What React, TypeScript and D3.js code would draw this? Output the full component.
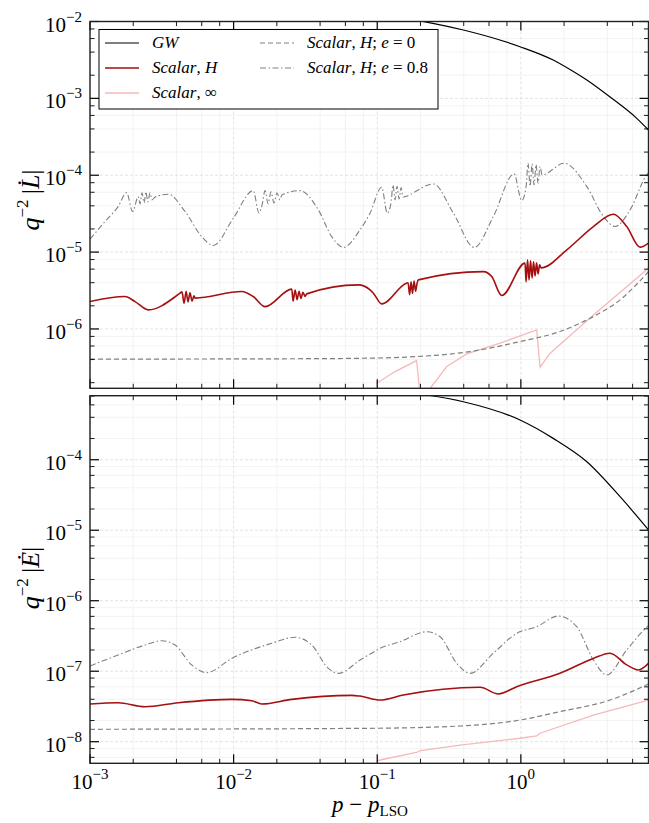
import React from 'react';
import * as d3 from 'd3';

// x: p - p_LSO ; y: flux values
const L_gw = [[0.199, 1.02e-2], [0.398, 7.75e-3], [0.987, 4.7e-3], [1.68, 3.15e-3], [2.2, 2.37e-3], [2.88, 1.73e-3], [4.18, 1.04e-3], [6.41, 5.5e-4], [7.74, 3.88e-4]];
const L_H = [[0.001, 2.27e-6], [0.00175, 2.64e-6], [0.00206, 2.27e-6], [0.00255, 1.77e-6], [0.00424, 2.92e-6], [0.00437, 3.04e-6], [0.00452, 2.16e-6], [0.00467, 3.1e-6], [0.00481, 2.25e-6], [0.00497, 2.95e-6], [0.00513, 2.3e-6], [0.0053, 2.7e-6], [0.00539, 2.52e-6], [0.01138, 3.07e-6], [0.0137, 2.64e-6], [0.01656, 1.95e-6], [0.0254, 3.3e-6], [0.02594, 2.3e-6], [0.0268, 3.2e-6], [0.02767, 2.4e-6], [0.02855, 3.1e-6], [0.02944, 2.5e-6], [0.0304, 3.0e-6], [0.0314, 2.65e-6], [0.0323, 2.86e-6], [0.0738, 3.74e-6], [0.0891, 3.23e-6], [0.094, 2.92e-6], [0.1074, 2.12e-6], [0.16, 3.94e-6], [0.164, 3.98e-6], [0.168, 2.8e-6], [0.172, 4.1e-6], [0.176, 2.9e-6], [0.1805, 4.2e-6], [0.185, 3.1e-6], [0.189, 3.86e-6], [0.193, 4.35e-6], [0.548, 5.57e-6], [0.627, 4.8e-6], [0.736, 2.72e-6], [1.069, 7.18e-6], [1.087, 4.1e-6], [1.113, 7.92e-6], [1.14, 4.35e-6], [1.168, 7.69e-6], [1.197, 4.62e-6], [1.226, 7.47e-6], [1.256, 4.91e-6], [1.286, 7.24e-6], [1.318, 5.21e-6], [1.35, 6.82e-6], [1.382, 6.24e-6], [2.09, 1.07e-5], [3.2, 2.15e-5], [4.41, 3.11e-5], [5.46, 2.15e-5], [6.76, 1.16e-5], [7.74, 1.31e-5]];
const L_inf = [[0.0991, 1.97e-7], [0.133, 2.79e-7], [0.188, 3.88e-7], [0.2, 1.2e-7], [0.21, 1.3e-7], [0.305, 3.24e-7], [0.42, 4.74e-7], [0.716, 6.53e-7], [1.29, 9.72e-7], [1.36, 3.18e-7], [1.6, 4.84e-7], [3.2, 1.52e-6], [7.74, 6.18e-6]];
const L_e0 = [[0.001, 4.05e-7], [0.03, 4.1e-7], [0.0891, 4.17e-7], [0.188, 4.37e-7], [0.443, 5.08e-7], [0.987, 6.86e-7], [1.87, 9.25e-7], [3.2, 1.45e-6], [4.91, 2.39e-6], [7.74, 5.57e-6]];
const L_e08 = [[0.001, 1.47e-5], [0.00127, 2.49e-5], [0.00157, 3.91e-5], [0.0018, 5.94e-5], [0.00198, 3.37e-5], [0.00217, 5.27e-5], [0.00223, 4.24e-5], [0.0023, 5.89e-5], [0.00238, 4.37e-5], [0.00245, 6.07e-5], [0.00253, 4.5e-5], [0.00262, 5.9e-5], [0.0027, 4.78e-5], [0.00283, 5.18e-5], [0.00351, 5.66e-5], [0.00459, 3.37e-5], [0.006, 1.59e-5], [0.00722, 1.22e-5], [0.00995, 2.76e-5], [0.0137, 6.3e-5], [0.01503, 3.21e-5], [0.01578, 4.11e-5], [0.01656, 6.3e-5], [0.01738, 4.24e-5], [0.0182, 6.07e-5], [0.0191, 4.37e-5], [0.02004, 5.89e-5], [0.02102, 4.78e-5], [0.0217, 5.55e-5], [0.029, 6.3e-5], [0.0389, 3.54e-5], [0.0482, 1.59e-5], [0.0581, 1.15e-5], [0.0759, 1.95e-5], [0.0891, 3.21e-5], [0.1074, 6.98e-5], [0.1175, 3.21e-5], [0.1247, 4.37e-5], [0.1288, 7.48e-5], [0.133, 4.78e-5], [0.1374, 7.2e-5], [0.1419, 4.9e-5], [0.1466, 6.9e-5], [0.1514, 5.2e-5], [0.156, 5.27e-5], [0.246, 7.7e-5], [0.339, 3.21e-5], [0.474, 1.15e-5], [0.643, 2.9e-5], [0.897, 1.04e-4], [1.014, 4.68e-5], [1.087, 6.98e-5], [1.122, 1.445e-4], [1.159, 7.2e-5], [1.197, 1.4e-4], [1.236, 7.5e-5], [1.276, 1.37e-4], [1.318, 7.9e-5], [1.36, 1.3e-4], [1.405, 1.01e-4], [2.0, 1.43e-4], [2.88, 7.1e-5], [3.76, 2.9e-5], [4.53, 2.15e-5], [5.76, 3.54e-5], [7.53, 1.01e-4], [7.74, 1.07e-4]];

const E_gw = [[0.221, 8.3e-4], [0.398, 6.65e-4], [0.987, 3.66e-4], [1.68, 2.01e-4], [2.88, 9.37e-5], [4.91, 2.99e-5], [7.74, 1.01e-5]];
const E_H = [[0.001, 3.43e-8], [0.00157, 3.57e-8], [0.00241, 3.13e-8], [0.00412, 3.57e-8], [0.0097, 3.99e-8], [0.0134, 3.82e-8], [0.0157, 3.43e-8], [0.0254, 3.99e-8], [0.0664, 4.55e-8], [0.0759, 4.44e-8], [0.1046, 3.9e-8], [0.152, 4.6e-8], [0.52, 5.92e-8], [0.697, 4.75e-8], [0.936, 6.03e-8], [1.87, 9.33e-8], [3.2, 1.52e-7], [4.18, 1.8e-7], [5.46, 1.23e-7], [6.58, 1.04e-7], [7.74, 1.29e-7]];
const E_inf = [[0.0991, 5.37e-9], [0.19, 7.1e-9], [0.2, 7.5e-9], [0.378, 8.97e-9], [0.987, 1.12e-8], [1.29, 1.21e-8], [1.36, 1.32e-8], [3.2, 2.39e-8], [7.74, 3.9e-8]];
const E_e0 = [[0.001, 1.5e-8], [0.0891, 1.55e-8], [0.378, 1.67e-8], [0.987, 2.03e-8], [1.87, 2.67e-8], [4.18, 3.9e-8], [7.74, 6.58e-8]];
const E_e08 = [[0.001, 1.19e-7], [0.00157, 1.7e-7], [0.00241, 2.35e-7], [0.00316, 2.71e-7], [0.00391, 2.35e-7], [0.0051, 1.23e-7], [0.0065, 9.53e-8], [0.0097, 1.52e-7], [0.0184, 2.49e-7], [0.0268, 3.03e-7], [0.035, 2.35e-7], [0.0456, 1.1e-7], [0.0536, 9.33e-8], [0.0759, 1.44e-7], [0.0891, 1.75e-7], [0.1046, 2.11e-7], [0.144, 2.62e-7], [0.221, 3.63e-7], [0.274, 3.08e-7], [0.358, 1.29e-7], [0.443, 9.33e-8], [0.643, 1.8e-7], [0.936, 3.45e-7], [1.29, 4.28e-7], [1.82, 6.07e-7], [2.45, 4.28e-7], [3.2, 1.44e-7], [3.96, 8.83e-8], [5.46, 2.0e-7], [7.53, 4.2e-7], [7.74, 4.4e-7]];

const xTicks = [1e-3, 1e-2, 1e-1, 1e0];
const topYTicks = [1e-2, 1e-3, 1e-4, 1e-5, 1e-6];
const botYTicks = [1e-4, 1e-5, 1e-6, 1e-7, 1e-8];

const W = 649;
const H = 823;
const X0 = 90;
const X1 = 648.5;
const FONT = "'Liberation Serif', 'Times New Roman', serif";
const RED = '#a50f0f';
const PINK = '#f6b9b9';
const GREY = '#808080';

const x = d3.scaleLog().domain([1e-3, 7.74]).range([X0, X1]);

const minorOf = (lo, hi) => {
  const out = [];
  for (let e = -10; e <= 2; e++) {
    for (const k of [2, 4, 6, 8]) {
      const v = k * Math.pow(10, e);
      if (v > lo && v < hi) out.push(v);
    }
  }
  return out;
};

const expOf = (v) => {
  const e = Math.round(Math.log10(v));
  return e < 0 ? '\u2212' + Math.abs(e) : String(e);
};

const Panel = ({ id, top, bottom, yDomain, yTicks, series, showXLabels }) => {
  const y = d3.scaleLog().domain(yDomain).range([bottom, top]);
  const line = d3
    .line()
    .x((d) => x(d[0]))
    .y((d) => y(d[1]))
    .curve(d3.curveMonotoneX);
  const straight = d3
    .line()
    .x((d) => x(d[0]))
    .y((d) => y(d[1]));
  const xMinor = minorOf(1e-3, 7.74);
  const yMinor = minorOf(yDomain[0], yDomain[1]);

  return (
    <g>
      <defs>
        <clipPath id={id}>
          <rect x={X0} y={top} width={X1 - X0} height={bottom - top} />
        </clipPath>
      </defs>
      {/* grid */}
      {xMinor.map((v) => (
        <line key={'gxm' + v} x1={x(v)} x2={x(v)} y1={top} y2={bottom} stroke="#f0f0f0" strokeWidth={0.8} />
      ))}
      {yMinor.map((v) => (
        <line key={'gym' + v} x1={X0} x2={X1} y1={y(v)} y2={y(v)} stroke="#f0f0f0" strokeWidth={0.8} />
      ))}
      {xTicks.map((v) => (
        <line key={'gx' + v} x1={x(v)} x2={x(v)} y1={top} y2={bottom} stroke="#dcdcdc" strokeWidth={0.8} strokeDasharray="3,2" />
      ))}
      {yTicks.map((v) => (
        <line key={'gy' + v} x1={X0} x2={X1} y1={y(v)} y2={y(v)} stroke="#dcdcdc" strokeWidth={0.8} strokeDasharray="3,2" />
      ))}
      {/* series */}
      <g clipPath={`url(#${id})`} fill="none">
        <path d={straight(series.inf)} stroke={PINK} strokeWidth={1.3} />
        <path d={line(series.e0)} stroke={GREY} strokeWidth={1.2} strokeDasharray="5,3" />
        <path d={line(series.e08)} stroke={GREY} strokeWidth={1.1} strokeDasharray="6,2.5,1.5,2.5" />
        <path d={line(series.H)} stroke={RED} strokeWidth={1.6} />
        <path d={line(series.gw)} stroke="#000" strokeWidth={1.2} />
      </g>
      {/* ticks */}
      {xTicks.map((v) => (
        <g key={'tx' + v} stroke="#000" strokeWidth={1.2}>
          <line x1={x(v)} x2={x(v)} y1={bottom} y2={bottom - 9} />
          <line x1={x(v)} x2={x(v)} y1={top} y2={top + 9} />
        </g>
      ))}
      {xMinor.map((v) => (
        <g key={'txm' + v} stroke="#000" strokeWidth={0.9}>
          <line x1={x(v)} x2={x(v)} y1={bottom} y2={bottom - 4.5} />
          <line x1={x(v)} x2={x(v)} y1={top} y2={top + 4.5} />
        </g>
      ))}
      {yTicks.map((v) => (
        <g key={'ty' + v} stroke="#000" strokeWidth={1.2}>
          <line x1={X0} x2={X0 + 9} y1={y(v)} y2={y(v)} />
          <line x1={X1} x2={X1 - 9} y1={y(v)} y2={y(v)} />
        </g>
      ))}
      {yMinor.map((v) => (
        <g key={'tym' + v} stroke="#000" strokeWidth={0.9}>
          <line x1={X0} x2={X0 + 4.5} y1={y(v)} y2={y(v)} />
          <line x1={X1} x2={X1 - 4.5} y1={y(v)} y2={y(v)} />
        </g>
      ))}
      <rect x={X0} y={top} width={X1 - X0} height={bottom - top} fill="none" stroke="#222" strokeWidth={1.4} />
      {/* y tick labels */}
      {yTicks.map((v) => (
        <text key={'ly' + v} x={82} y={y(v) + 10} textAnchor="end" fontFamily={FONT} fontSize={21}>
          10
          <tspan dy={-10} fontSize={15}>{expOf(v)}</tspan>
        </text>
      ))}
      {showXLabels &&
        xTicks.map((v) => (
          <text key={'lx' + v} x={x(v)} y={789} textAnchor="middle" fontFamily={FONT} fontSize={21}>
            10
            <tspan dy={-10} fontSize={15}>{expOf(v)}</tspan>
          </text>
        ))}
    </g>
  );
};

const Legend = () => {
  const rows = [
    { x: 105, y: 43, stroke: '#000', dash: null, w: 1.2, label: [['GW', true]] },
    { x: 105, y: 68, stroke: RED, dash: null, w: 1.6, label: [['Scalar', true], [', ', false], ['H', true]] },
    { x: 105, y: 93, stroke: PINK, dash: null, w: 1.3, label: [['Scalar', true], [', \u221E', false]] },
    { x: 260, y: 43, stroke: GREY, dash: '5,3', w: 1.2, label: [['Scalar', true], [', ', false], ['H', true], ['; ', false], ['e', true], [' = 0', false]] },
    { x: 260, y: 68, stroke: GREY, dash: '6,2.5,1.5,2.5', w: 1.1, label: [['Scalar', true], [', ', false], ['H', true], ['; ', false], ['e', true], [' = 0.8', false]] },
  ];
  return (
    <g>
      <rect x={99} y={29.5} width={339} height={79.5} fill="#fff" stroke="#000" strokeWidth={1} />
      {rows.map((r, i) => (
        <g key={i}>
          <line x1={r.x} x2={r.x + 34} y1={r.y} y2={r.y} stroke={r.stroke} strokeWidth={r.w} strokeDasharray={r.dash || undefined} />
          <text x={r.x + 47} y={r.y + 5} fontFamily={FONT} fontSize={17}>
            {r.label.map(([t, it], j) => (
              <tspan key={j} fontStyle={it ? 'italic' : 'normal'}>{t}</tspan>
            ))}
          </text>
        </g>
      ))}
    </g>
  );
};

const YLabel = ({ cy, sym }) => (
  <text transform={`translate(39,${cy}) rotate(-90)`} textAnchor="middle" fontFamily={FONT} fontSize={26}>
    <tspan fontStyle="italic">q</tspan>
    <tspan dy={-11} fontSize={17}>{'\u22122'}</tspan>
    <tspan dy={11}>{'\u2009|'}</tspan>
    <tspan fontStyle="italic">{sym}</tspan>
    <tspan>|</tspan>
  </text>
);

const App = () => {
  return (
    <svg width={W} height={H} style={{ position: 'absolute', left: 0, top: 0, background: '#fff' }}>
      <rect x={0} y={0} width={W} height={H} fill="#fff" />
      <Panel
        id="clipTop"
        top={21.5}
        bottom={388.3}
        yDomain={[1.69e-7, 1e-2]}
        yTicks={topYTicks}
        series={{ gw: L_gw, H: L_H, inf: L_inf, e0: L_e0, e08: L_e08 }}
        showXLabels={false}
      />
      <Panel
        id="clipBot"
        top={395.7}
        bottom={763.3}
        yDomain={[4.94e-9, 8.1e-4]}
        yTicks={botYTicks}
        series={{ gw: E_gw, H: E_H, inf: E_inf, e0: E_e0, e08: E_e08 }}
        showXLabels={true}
      />
      <Legend />
      <YLabel cy={200} sym={'L\u0307'} />
      <YLabel cy={578} sym={'\u0116'} />
      <text x={370} y={812} textAnchor="middle" fontFamily={FONT} fontSize={23}>
        <tspan fontStyle="italic">p</tspan>
        <tspan>{' \u2212 '}</tspan>
        <tspan fontStyle="italic">p</tspan>
        <tspan dy={4} fontSize={15}>LSO</tspan>
      </text>
    </svg>
  );
};

export default App;
